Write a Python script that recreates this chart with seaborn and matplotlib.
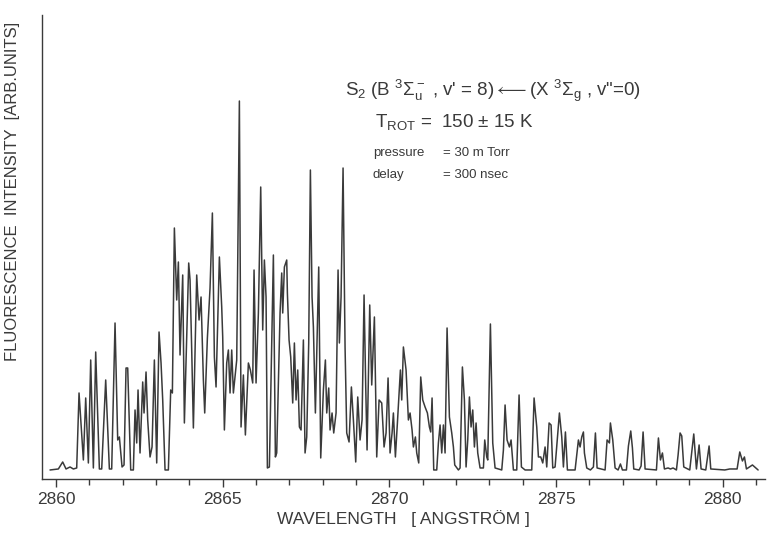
import pandas as pd
import seaborn as sns
import matplotlib.pyplot as plt
from matplotlib.ticker import MultipleLocator

# S2 B-X (8,0) LIF spectrum
# wavelength in Angstrom, intensity in arbitrary units
wavelength = [
    2859.82, 2860.07, 2860.20, 2860.30, 2860.42, 2860.52, 2860.62, 2860.69, 2860.82, 2860.89,
    2860.97, 2861.04, 2861.12, 2861.19, 2861.30, 2861.37, 2861.49, 2861.60, 2861.67, 2861.77,
    2861.85, 2861.90, 2861.98, 2862.04, 2862.10, 2862.15, 2862.24, 2862.32, 2862.37, 2862.42,
    2862.46, 2862.52, 2862.60, 2862.64, 2862.70, 2862.75, 2862.82, 2862.88, 2862.95, 2863.02,
    2863.09, 2863.15, 2863.20, 2863.27, 2863.37, 2863.44, 2863.49, 2863.55, 2863.62, 2863.67,
    2863.72, 2863.80, 2863.85, 2863.98, 2864.02, 2864.07, 2864.12, 2864.22, 2864.29, 2864.35,
    2864.42, 2864.46, 2864.54, 2864.62, 2864.69, 2864.75, 2864.80, 2864.90, 2864.97, 2865.00,
    2865.05, 2865.12, 2865.17, 2865.22, 2865.27, 2865.32, 2865.42, 2865.50, 2865.55, 2865.62,
    2865.68, 2865.77, 2865.83, 2865.90, 2865.94, 2866.00, 2866.07, 2866.14, 2866.20, 2866.25,
    2866.30, 2866.34, 2866.40, 2866.52, 2866.58, 2866.62, 2866.72, 2866.77, 2866.80, 2866.85,
    2866.92, 2866.94, 2866.99, 2867.04, 2867.10, 2867.15, 2867.20, 2867.25, 2867.30, 2867.35,
    2867.42, 2867.47, 2867.52, 2867.58, 2867.63, 2867.68, 2867.72, 2867.78, 2867.88, 2867.94,
    2868.02, 2868.08, 2868.12, 2868.18, 2868.22, 2868.28, 2868.33, 2868.40, 2868.46, 2868.50,
    2868.55, 2868.61, 2868.67, 2868.72, 2868.79, 2868.86, 2868.92, 2868.99, 2869.05, 2869.12,
    2869.18, 2869.24, 2869.29, 2869.33, 2869.41, 2869.47, 2869.55, 2869.62, 2869.69, 2869.77,
    2869.84, 2869.90, 2869.96, 2870.02, 2870.08, 2870.12, 2870.18, 2870.24, 2870.33, 2870.37,
    2870.42, 2870.50, 2870.57, 2870.62, 2870.68, 2870.72, 2870.78, 2870.82, 2870.88, 2870.94,
    2871.00, 2871.07, 2871.14, 2871.20, 2871.24, 2871.28, 2871.33, 2871.42, 2871.47, 2871.52,
    2871.57, 2871.62, 2871.67, 2871.73, 2871.80, 2871.87, 2871.92, 2871.96, 2872.07, 2872.12,
    2872.19, 2872.25, 2872.30, 2872.35, 2872.40, 2872.45, 2872.50, 2872.55, 2872.60, 2872.65,
    2872.72, 2872.82, 2872.86, 2872.92, 2872.95, 2873.03, 2873.10, 2873.17, 2873.37, 2873.42,
    2873.47, 2873.53, 2873.60, 2873.65, 2873.72, 2873.82, 2873.89, 2873.96, 2874.07, 2874.27,
    2874.34, 2874.42, 2874.47, 2874.54, 2874.60, 2874.67, 2874.72, 2874.79, 2874.85, 2874.90,
    2874.97, 2875.10, 2875.17, 2875.22, 2875.28, 2875.34, 2875.57, 2875.67, 2875.72, 2875.77,
    2875.82, 2875.85, 2875.92, 2876.03, 2876.12, 2876.18, 2876.23, 2876.47, 2876.53, 2876.60,
    2876.63, 2876.70, 2876.77, 2876.86, 2876.93, 2876.99, 2877.11, 2877.17, 2877.24, 2877.29,
    2877.33, 2877.49, 2877.55, 2877.61, 2877.67, 2878.01, 2878.07, 2878.13, 2878.19, 2878.25,
    2878.36, 2878.43, 2878.51, 2878.61, 2878.66, 2878.72, 2878.77, 2878.83, 2879.01, 2879.13,
    2879.21, 2879.29, 2879.35, 2879.49, 2879.59, 2879.64, 2880.06, 2880.21, 2880.43, 2880.51,
    2880.59, 2880.65, 2880.71, 2880.89, 2881.06,
]
intensity = [
    0, 1, 8, 1, 3, 1, 2, 77, 10, 72,
    7, 110, 2, 118, 1, 1, 90, 1, 1, 147,
    30, 33, 3, 5, 102, 102, 0, 0, 60, 27,
    80, 17, 88, 57, 98, 50, 13, 23, 110, 7,
    138, 107, 70, 0, 0, 80, 77, 242, 170, 208,
    115, 195, 47, 207, 190, 120, 42, 195, 150, 173,
    90, 57, 132, 182, 257, 113, 83, 213, 163, 133,
    40, 107, 120, 77, 120, 77, 110, 369, 43, 95,
    35, 107, 100, 87, 200, 87, 157, 283, 140, 210,
    173, 2, 3, 215, 13, 17, 157, 197, 157, 203,
    210, 177, 130, 113, 67, 127, 70, 100, 43, 40,
    130, 17, 33, 127, 300, 173, 143, 57, 203, 12,
    80, 110, 57, 82, 40, 57, 37, 57, 200, 127,
    173, 302, 123, 37, 28, 83, 50, 8, 73, 30,
    50, 175, 83, 20, 165, 85, 153, 13, 70, 67,
    23, 37, 92, 17, 37, 57, 13, 47, 100, 70,
    123, 100, 50, 57, 40, 23, 33, 17, 7, 93,
    70, 63, 57, 43, 38, 72, 0, 0, 27, 45,
    17, 45, 17, 142, 53, 37, 23, 5, 0, 2,
    103, 70, 3, 30, 73, 43, 60, 23, 47, 17,
    2, 2, 30, 13, 10, 146, 27, 2, 0, 20,
    65, 30, 23, 30, 0, 0, 75, 3, 0, 0,
    72, 43, 13, 13, 7, 23, 3, 47, 45, 2,
    3, 57, 33, 3, 38, 0, 0, 30, 23, 33,
    38, 17, 2, 0, 3, 37, 2, 0, 30, 27,
    47, 30, 2, 0, 6, 0, 0, 24, 39, 22,
    1, 0, 4, 38, 1, 0, 32, 10, 17, 1,
    2, 1, 2, 0, 15, 37, 34, 3, 0, 36,
    1, 25, 1, 0, 24, 1, 0, 1, 1, 18,
    9, 13, 1, 5, 0,
]

major_ticks = [2860, 2865, 2870, 2875, 2880]

spectrum = pd.DataFrame({'wavelength': wavelength, 'intensity': intensity})

sns.set_style('ticks')
plt.rcParams['font.family'] = ['Liberation Sans', 'DejaVu Sans']
plt.rcParams['mathtext.fontset'] = 'custom'
plt.rcParams['mathtext.rm'] = 'Liberation Sans'
plt.rcParams['mathtext.it'] = 'Liberation Sans:italic'

ink = '#3a3a3a'

fig = plt.figure(figsize=(7.75, 5.33), dpi=100)
ax = fig.add_axes([0.0538, 0.1008, 0.933, 0.871])

sns.lineplot(data=spectrum, x='wavelength', y='intensity', ax=ax,
             color=ink, linewidth=1.1, estimator=None, sort=False)

ax.set_xlim(2859.57, 2881.26)
ax.set_ylim(-9.3, 455)
ax.set_xticks(major_ticks)
ax.set_xticklabels([str(t) for t in major_ticks])
ax.xaxis.set_minor_locator(MultipleLocator(1))
ax.set_yticks([])
ax.tick_params(axis='x', which='major', length=5.5, width=1, pad=4,
               labelsize=12.5, color=ink, labelcolor=ink)
ax.tick_params(axis='x', which='minor', length=4.5, width=1, color=ink)
sns.despine(ax=ax)
for side in ['left', 'bottom']:
    ax.spines[side].set_color(ink)
    ax.spines[side].set_linewidth(1)

ax.set_xlabel('WAVELENGTH   [ ANGSTRÖM ]', fontsize=12.5, color=ink, labelpad=2)
ax.set_ylabel('FLUORESCENCE  INTENSITY  [ARB.UNITS]', fontsize=12, color=ink)
ax.yaxis.set_label_coords(-0.03, 0.62)

title_line = r"""S$_2$ (B $^3\Sigma_\mathrm{u}^-$ , v' = 8)$\longleftarrow$(X $^3\Sigma_\mathrm{g}$ , v"=0)"""
fig.text(0.445, 0.820, title_line, fontsize=13.5, color=ink, va='baseline')
fig.text(0.484, 0.762, r"T$_\mathrm{ROT}$ =  150 ± 15 K", fontsize=13.5, color=ink, va='baseline')
fig.text(0.481, 0.708, 'pressure', fontsize=9.5, color=ink, va='baseline')
fig.text(0.572, 0.708, '= 30 m Torr', fontsize=9.5, color=ink, va='baseline')
fig.text(0.481, 0.666, 'delay', fontsize=9.5, color=ink, va='baseline')
fig.text(0.572, 0.666, '= 300 nsec', fontsize=9.5, color=ink, va='baseline')

fig.savefig('out.png', dpi=100)
